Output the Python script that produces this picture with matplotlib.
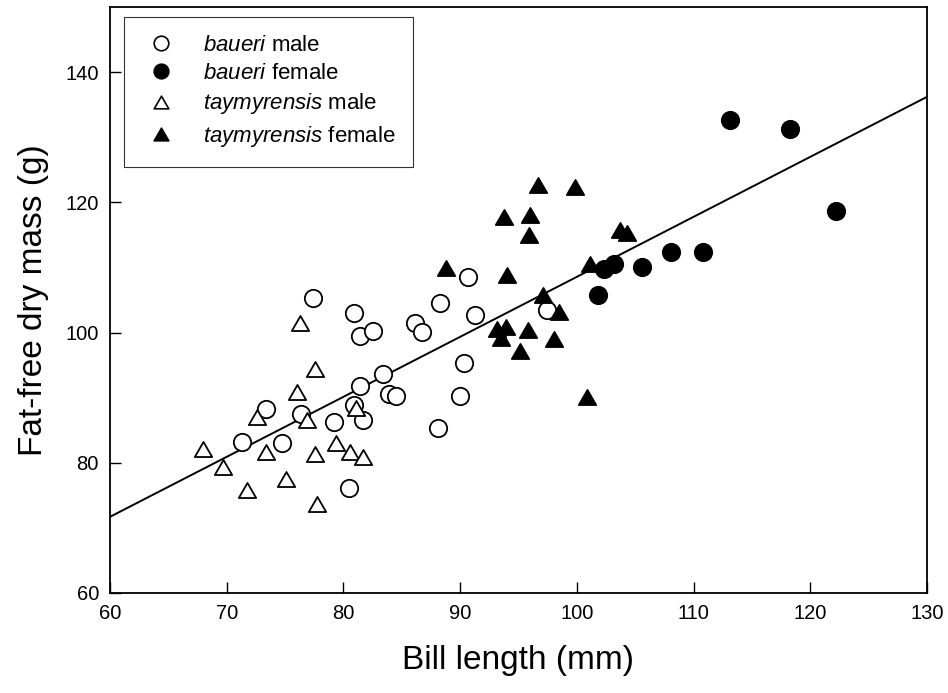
import numpy as np
import matplotlib
matplotlib.use("Agg")
import matplotlib.pyplot as plt
from matplotlib.path import Path
from matplotlib.lines import Line2D

plt.rcParams['font.family'] = ['Liberation Sans', 'DejaVu Sans']
plt.rcParams['mathtext.fontset'] = 'custom'
plt.rcParams['mathtext.rm'] = 'Liberation Sans'
plt.rcParams['mathtext.it'] = 'Liberation Sans:italic'

# baueri male (open circles)
bm_x = [77.4, 80.9, 81.4, 82.5, 83.4, 81.4, 83.9, 84.5, 73.4, 76.4, 80.9, 79.2, 81.7,
        71.3, 74.7, 80.5, 90.7, 88.3, 91.3, 86.1, 86.7, 97.4, 90.3, 90.0, 88.1]
bm_y = [105.3, 103.0, 99.4, 100.3, 93.7, 91.8, 90.6, 90.2, 88.2, 87.5, 88.9, 86.3, 86.6,
        83.2, 83.0, 76.1, 108.5, 104.6, 102.7, 101.5, 100.1, 103.5, 95.4, 90.3, 85.3]

# baueri female (filled circles)
bf_x = [113.1, 118.3, 122.2, 110.8, 108.1, 105.6, 103.2, 102.3, 101.8]
bf_y = [132.6, 131.2, 118.6, 112.4, 112.3, 110.1, 110.6, 109.7, 105.8]

# taymyrensis male (open triangles)
tm_x = [76.3, 77.6, 76.0, 72.6, 76.9, 81.1, 68.0, 69.7, 73.4, 77.6, 79.4, 80.6, 81.7,
        75.1, 71.7, 77.7]
tm_y = [101.4, 94.4, 90.9, 87.0, 86.6, 88.4, 82.1, 79.4, 81.7, 81.4, 83.0, 81.7, 80.9,
        77.5, 75.8, 73.7]

# taymyrensis female (filled triangles)
tf_x = [96.7, 99.8, 93.8, 96.0, 95.9, 103.7, 104.3, 88.8, 94.0, 101.1, 97.1, 98.5,
        93.2, 93.9, 95.8, 93.5, 98.0, 95.1, 100.9]
tf_y = [122.7, 122.4, 117.8, 118.1, 115.0, 115.8, 115.3, 109.9, 108.8, 110.6, 105.8, 103.2,
        100.5, 100.9, 100.4, 99.1, 99.0, 97.1, 90.1]

# regression line end points
fit_x = [60, 130]
fit_y = [71.7, 136.2]

xticks = [60, 70, 80, 90, 100, 110, 120, 130]
yticks = [60, 80, 100, 120, 140]

tri = Path([(-1, -0.866), (1, -0.866), (0, 0.866), (-1, -0.866)],
           [Path.MOVETO, Path.LINETO, Path.LINETO, Path.CLOSEPOLY])

fig = plt.figure(figsize=(9.48, 6.93), dpi=100)
ax = fig.add_axes([110/948, 100/693, 817/948, 586/693])

ax.plot(fit_x, fit_y, color='black', lw=1.4, zorder=1)

ms = 12.5
ax.plot(bm_x, bm_y, 'o', ms=ms, mfc='white', mec='black', mew=1.3, ls='none', zorder=3)
ax.plot(bf_x, bf_y, 'o', ms=ms, mfc='black', mec='black', mew=1.3, ls='none', zorder=3)
ax.plot(tm_x, tm_y, marker=tri, ms=ms, mfc='white', mec='black', mew=1.3, ls='none', zorder=3)
ax.plot(tf_x, tf_y, marker=tri, ms=ms, mfc='black', mec='black', mew=1.3, ls='none', zorder=3)

ax.set_xlim(60, 130)
ax.set_ylim(60, 150)
ax.set_xticks(xticks)
ax.set_yticks(yticks)
ax.tick_params(direction='in', length=8, width=1.0, labelsize=14.5, pad=8)
for s in ax.spines.values():
    s.set_linewidth(1.3)

ax.set_xlabel('Bill length (mm)', fontsize=24, labelpad=16)
ax.set_ylabel('Fat-free dry mass (g)', fontsize=24, labelpad=12)

lms = 10.5
handles = [
    Line2D([], [], marker='o', ms=lms, mfc='white', mec='black', mew=1.2, ls='none'),
    Line2D([], [], marker='o', ms=lms, mfc='black', mec='black', mew=1.2, ls='none'),
    Line2D([], [], marker=tri, ms=lms, mfc='white', mec='black', mew=1.2, ls='none'),
    Line2D([], [], marker=tri, ms=lms, mfc='black', mec='black', mew=1.2, ls='none'),
]
labels = [r'$\it{baueri}$ male', r'$\it{baueri}$ female',
          r'$\it{taymyrensis}$ male', r'$\it{taymyrensis}$ female']
leg = ax.legend(handles, labels, loc='upper left', bbox_to_anchor=(14/817, 1 - 10/586),
                fontsize=16, frameon=True, fancybox=False, edgecolor='black',
                borderpad=0.8, labelspacing=0.33, handletextpad=1.0, borderaxespad=0,
                handlelength=1.75)
leg.get_frame().set_linewidth(0.8)

fig.savefig('out.png', dpi=100)
